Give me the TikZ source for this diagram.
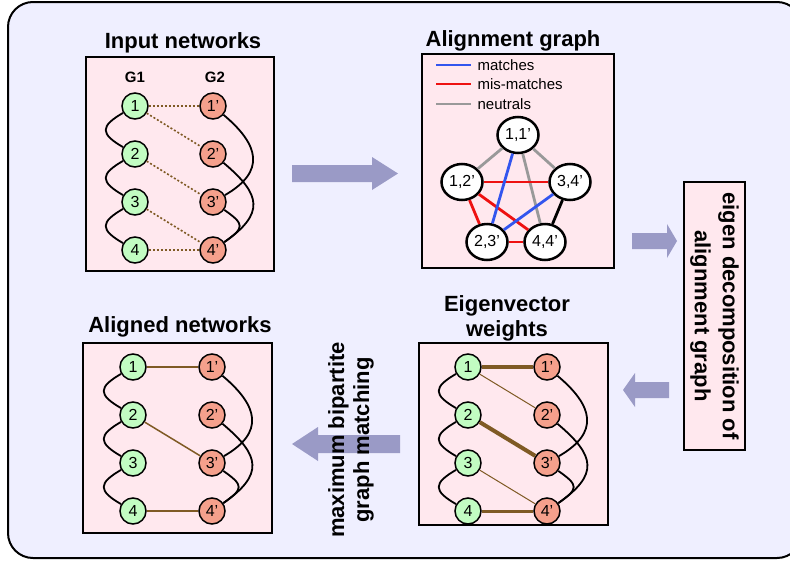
\documentclass[tikz,border=0pt]{standalone}
\usepackage{fontspec}
\setmainfont{Liberation Sans}
\usepackage{tikz}
\usetikzlibrary{
	arrows.meta,
	positioning,
	shapes.geometric
}
\definecolor{bgcol}{HTML}{EFEFFF}
\definecolor{panelcol}{HTML}{FFE8EE}
\definecolor{gcol}{HTML}{C2FCC2}
\definecolor{rcol}{HTML}{F5A08C}
\definecolor{arrcol}{HTML}{9A9AC6}
\definecolor{edgecol}{HTML}{7F5A24}
\definecolor{matchcol}{HTML}{3355EE}
\definecolor{misscol}{HTML}{EE1111}
\definecolor{neutcol}{HTML}{999999}
\tikzset{
	frame/.style={draw,fill=bgcol,line width=2pt,rounded corners=25pt},
	panel/.style={draw,fill=panelcol,line width=1.3pt,inner sep=0pt},
	title/.style={font=\bfseries\fontsize{22}{25}\selectfont,align=center},
	glabel/.style={font=\bfseries\fontsize{15}{15}\selectfont},
	legend/.style={font=\fontsize{15}{15}\selectfont,anchor=west,inner sep=0pt},
	gnode/.style={circle,draw,fill=gcol,minimum size=26pt,inner sep=0pt,line width=1.5pt,font=\fontsize{16}{16}\selectfont},
	rnode/.style={gnode,fill=rcol},
	anode/.style={ellipse,draw,fill=white,minimum width=41pt,minimum height=36pt,inner sep=0pt,line width=2.5pt,font=\fontsize{16}{16}\selectfont},
	net/.style={line width=1.8pt},
	aedge/.style={line width=2.8pt},
	pair/.style={edgecol,line width=1.6pt,dash pattern=on 2pt off 2pt},
	wedge/.style={edgecol,line width=#1},
	blockarrow/.style={fill=arrcol,draw=none}
}
% two networks G1 and G2: prefix, x of G1, x of G2, y of top row
\newcommand{\tikzNet}[4]{%
	\foreach \i in {1,...,4}{
		\node[gnode] (#1a\i) at (#2,{#4+48*(\i-1)}) {\i};
		\node[rnode] (#1b\i) at (#3,{#4+48*(\i-1)}) {\i'};
	}
	\draw[net] (#1a1) to[out=210,in=150,looseness=2] (#1a2);
	\draw[net] (#1a2) to[out=210,in=150,looseness=2] (#1a3);
	\draw[net] (#1a3) to[out=210,in=150,looseness=2] (#1a4);
	\draw[net] (#1b1) to[out=-40,in=30,looseness=1.5] (#1b3);
	\draw[net] (#1b2) to[out=-40,in=35,looseness=1.6] (#1b4);
	\draw[net] (#1b3) to[out=-35,in=35,looseness=2] (#1b4);
}

\begin{document}
\begin{tikzpicture}[x=1pt,y=-1pt,line width=1.3pt]
	\useasboundingbox (0,0) rectangle (790,560);
	\clip (0,0) rectangle (790,560);
	\path[frame] (8,2) rectangle (802,558);
	
	% Input networks
	\node[panel,minimum width=188pt,minimum height=214pt] (inbox) at (180,164) {};
	\node[title,anchor=base] (intitle) at (183,48) {Input networks};
	\node[glabel,anchor=base] (g1lab) at (135,82) {G1};
	\node[glabel,anchor=base] (g2lab) at (215,82) {G2};
	\tikzNet{in}{135}{213}{106}
	\draw[pair] (ina1) -- (inb1);
	\draw[pair] (ina1) -- (inb2);
	\draw[pair] (ina2) -- (inb3);
	\draw[pair] (ina3) -- (inb4);
	\draw[pair] (ina4) -- (inb4);
	
	\fill[blockarrow] (292,165) -- (372,165) -- (372,157) -- (398,173.5) -- (372,190) -- (372,182) -- (292,182) -- cycle;
	
	% Alignment graph
	\node[panel,minimum width=192pt,minimum height=214pt] (agbox) at (518,161) {};
	\node[title,anchor=base] (agtitle) at (513,46) {Alignment graph};
	\draw[matchcol,line width=2.5pt] (436,65) -- (471,65);
	\draw[misscol,line width=2.5pt] (436,84) -- (471,84);
	\draw[neutcol,line width=2.5pt] (436,104) -- (471,104);
	\node[legend] (lmatch) at (477,65) {matches};
	\node[legend] (lmiss) at (477,84) {mis-matches};
	\node[legend] (lneut) at (477,104) {neutrals};
	
	\node[anode] (n11) at (518,135) {1,1'};
	\node[anode] (n12) at (462,182) {1,2'};
	\node[anode] (n34) at (570,182) {3,4'};
	\node[anode] (n23) at (487,242) {2,3'};
	\node[anode] (n44) at (545,242) {4,4'};
	\draw[aedge,neutcol] (n11) -- (n12);
	\draw[aedge,neutcol] (n11) -- (n34);
	\draw[aedge,neutcol] (n11) -- (n44);
	\draw[aedge,misscol] (n12) -- (n34);
	\draw[aedge,misscol] (n12) -- (n23);
	\draw[aedge,misscol] (n12) -- (n44);
	\draw[aedge,misscol] (n23) -- (n44);
	\draw[aedge,matchcol] (n11) -- (n23);
	\draw[aedge,matchcol] (n34) -- (n23);
	\draw[aedge] (n34) -- (n44);
	
	\fill[blockarrow] (632,233) -- (667,233) -- (667,224) -- (677,241) -- (667,258) -- (667,249) -- (632,249) -- cycle;
	
	% Eigen decomposition
	\node[panel,rotate=-90,minimum width=268pt,minimum height=61pt,font=\bfseries\fontsize{22}{28}\selectfont,align=center] (eig) at (714.5,316) {eigen decomposition of\\alignment graph};
	
	\fill[blockarrow] (669,382) -- (635,382) -- (635,373) -- (623,390) -- (635,407) -- (635,398) -- (669,398) -- cycle;
	
	% Eigenvector weights
	\node[panel,minimum width=189pt,minimum height=182pt] (ewbox) at (513.5,434) {};
	\node[title] (ewtitle) at (507,318) {Eigenvector\\weights};
	\tikzNet{ew}{468}{547}{367}
	\draw[wedge=4pt] (ewa1) -- (ewb1);
	\draw[wedge=1pt] (ewa1) -- (ewb2);
	\draw[wedge=4pt] (ewa2) -- (ewb3);
	\draw[wedge=1pt] (ewa3) -- (ewb4);
	\draw[wedge=3pt] (ewa4) -- (ewb4);
	
	\fill[blockarrow] (400,435) -- (318,435) -- (318,427) -- (292,444) -- (318,461) -- (318,453) -- (400,453) -- cycle;
	\node[title,rotate=90] (mbm) at (351,440) {maximum bipartite\\graph matching};
	
	% Aligned networks
	\node[panel,minimum width=189pt,minimum height=190pt] (albox) at (177.5,438) {};
	\node[title,anchor=base] (altitle) at (180,332) {Aligned networks};
	\tikzNet{al}{133}{212}{367}
	\draw[wedge=1.5pt] (ala1) -- (alb1);
	\draw[wedge=1.5pt] (ala2) -- (alb3);
	\draw[wedge=1.5pt] (ala4) -- (alb4);
\end{tikzpicture}
\end{document}
